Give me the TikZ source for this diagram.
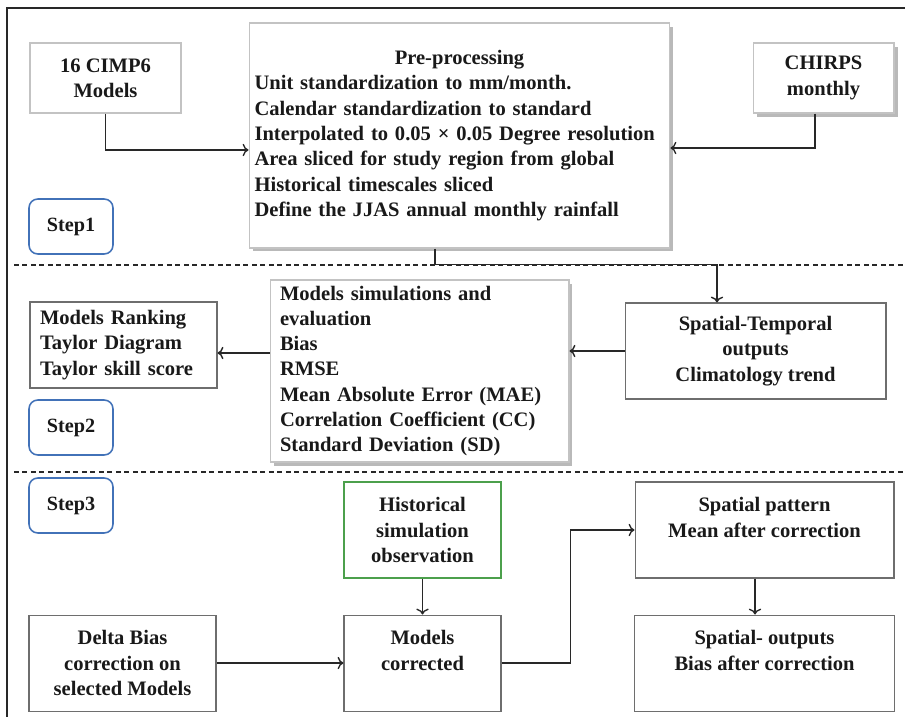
\documentclass[tikz,border=0pt]{standalone}
\usepackage{fontspec}
\setmainfont{Liberation Serif}
\usetikzlibrary{arrows.meta, positioning, calc, shadows}
\definecolor{frameline}{RGB}{40, 40, 40}
\definecolor{boxline}{RGB}{110, 110, 110}
\definecolor{lightline}{RGB}{195, 195, 195}
\definecolor{stepblue}{RGB}{66, 114, 184}
\definecolor{histgreen}{RGB}{76, 160, 76}

\begin{document}
\begin{tikzpicture}[x=0.02cm, y=-0.02cm,
            every node/.style={font=\bfseries\fontsize{11.7}{14.4}\selectfont, text=black!90},
            plain/.style={rectangle, draw=boxline, line width=0.6pt, fill=white, align=center, inner sep=0pt},
            shadowed/.style={plain, draw=lightline, drop shadow={shadow xshift=2pt, shadow yshift=-2pt, fill=black!50, opacity=0.55}},
            listbox/.style={shadowed, align=left, inner xsep=0.2cm},
            stepbox/.style={rectangle, rounded corners=5pt, draw=stepblue, line width=0.9pt, minimum width=1.68cm, minimum height=1.1cm, font=\bfseries\fontsize{11.5}{14}\selectfont},
            conn/.style={->, line width=0.8pt, draw=frameline},
            sep/.style={draw=frameline, line width=0.6pt, dash pattern=on 0.1cm off 0.07cm}
        ]
            \useasboundingbox (0,0) rectangle (905,716);
            \clip (0,0) rectangle (905,716);
            \draw[frameline, line width=1pt] (7,8) rectangle (930,740);

            % step 1
            \node[plain, draw=lightline, minimum width=3.02cm, minimum height=1.4cm] (cimp) at (105.5,78) {16 CIMP6\\Models};
            \node[listbox, text width=8.2cm, inner xsep=0.11cm, minimum height=4.5cm] (prep) at (459.5,135.5) {\makebox[\hsize]{Pre-processing}\\Unit standardization to mm/month.\\Calendar standardization to standard\\Interpolated to 0.05 × 0.05 Degree resolution\\Area sliced for study region from global\\Historical timescales sliced\\Define the JJAS annual monthly rainfall};
            \node[shadowed, minimum width=2.82cm, minimum height=1.4cm] (chirps) at (823.5,78) {CHIRPS\\monthly};
            \node[stepbox] (stepone) at (71,226.5) {Step1};

            % step 2
            \node[plain, align=left, text width=3.34cm, inner xsep=0.2cm, minimum height=1.72cm] (ranking) at (123.5,345) {Models Ranking\\Taylor Diagram\\Taylor skill score};
            \node[listbox, text width=5.58cm, minimum height=3.64cm] (evaluation) at (419.5,371) {Models simulations and\\evaluation\\Bias\\RMSE\\Mean Absolute Error (MAE)\\Correlation Coefficient (CC)\\Standard Deviation (SD)};
            \node[plain, minimum width=5.22cm, minimum height=1.92cm] (spatemp) at (755.5,351) {Spatial-Temporal\\outputs\\Climatology trend};
            \node[stepbox] (steptwo) at (71,427.5) {Step2};

            % step 3
            \node[stepbox] (stepthree) at (71,505.5) {Step3};
            \node[plain, draw=histgreen, minimum width=3.14cm, minimum height=1.92cm] (hist) at (422.5,530) {Historical\\simulation\\observation};
            \node[plain, minimum width=3.14cm, minimum height=1.92cm, below=0.72cm of hist] (corrected) {Models\\corrected\\\mbox{}};
            \node[plain, minimum width=3.74cm, minimum height=1.92cm, left=2.54cm of corrected] (delta) {Delta Bias\\correction on\\selected Models};
            \node[plain, minimum width=5.18cm, minimum height=1.92cm] (pattern) at (764.5,530) {Spatial pattern\\Mean after correction\\\mbox{}};
            \node[plain, minimum width=5.2cm, minimum height=1.92cm, below=0.72cm of pattern] (biasout) {Spatial- outputs\\Bias after correction\\\mbox{}};

            \foreach \y in {265, 472}
                \draw[sep] (14,\y) -- (905,\y);

            \path (ranking.east) ++(0,8) coordinate (rankin);

            \draw[conn] (cimp.south) |- ([yshift=-0.29cm]prep.west);
            \draw[conn] ([xshift=-0.17cm]chirps.south) |- ([yshift=-0.25cm]prep.east);
            \draw[conn] ([xshift=-0.49cm]prep.south) -- ++(0,16) -| ([xshift=-0.77cm]spatemp.north);
            \draw[conn] (spatemp.west) -- (spatemp.west -| evaluation.east);
            \draw[conn] (evaluation.west |- rankin) -- (rankin);
            \draw[conn] (hist.south) -- (corrected.north);
            \draw[conn] (delta.east) -- (corrected.west);
            \draw[conn] (corrected.east) -- ++(69,0) |- (pattern.west);
            \draw[conn] ([xshift=-0.19cm]pattern.south) -- ([xshift=-0.19cm]biasout.north);
        \end{tikzpicture}
\end{document}
